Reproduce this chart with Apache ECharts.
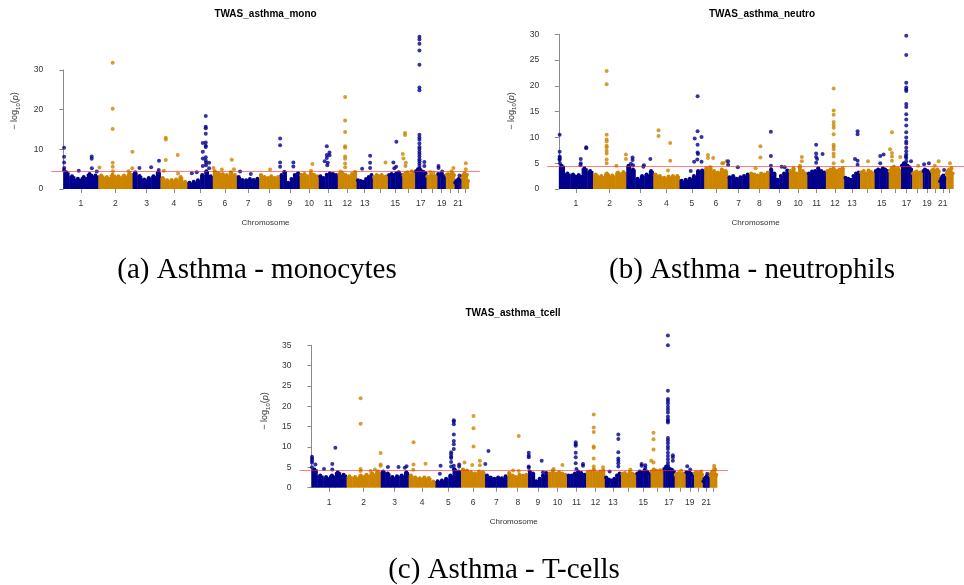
<!DOCTYPE html>
<html><head><meta charset="utf-8">
<script src="https://cdn.jsdelivr.net/npm/echarts@6/dist/echarts.min.js"></script>
<style>html,body{margin:0;padding:0;background:#fff}#c{width:964px;height:585px}</style>
</head><body><div id="c"></div>
<script>
// ---------- data ----------
const chromNames = ['1','2','3','4','5','6','7','8','9','10','11','12','13','14','15','16','17','18','19','20','21','22'];
const chromLength = [249.25,243.2,198.0,191.15,180.9,171.1,159.1,146.4,141.2,135.5,135.0,133.85,115.2,107.35,102.5,90.35,81.2,78.1,59.1,63.0,48.1,51.3];
const labeledChroms = ['1','2','3','4','5','6','7','8','9','10','11','12','13','15','17','19','21'];
const suggestiveLine = 4.35;

const titles = ['TWAS_asthma_mono','TWAS_asthma_neutro','TWAS_asthma_tcell'];
const captions = ['(a) Asthma - monocytes','(b) Asthma - neutrophils','(c) Asthma - T-cells'];
const yTicksMono = [0,10,20,30];
const yTicksNeutro = [0,5,10,15,20,25,30];
const yTicksTcell = [0,5,10,15,20,25,30,35];

// dense background band: envelope height of the bulk of genes, 6 segments per chromosome
const bandMono = [
 [4.2,3.2,2.6,3.0,3.8,3.4],[3.4,3.0,3.6,3.2,3.4,3.9],[4.0,3.3,2.4,2.8,3.2,4.2],[2.8,2.2,2.3,2.4,3.0,1.8],
 [1.6,1.8,2.2,3.5,4.5,3.2],[4.5,4.0,3.8,3.5,4.2,3.5],[3.0,2.3,2.2,2.5,2.3,2.6],[3.5,3.0,2.8,3.2,2.8,3.0],
 [3.5,4.2,1.6,2.5,3.5,4.0],[3.5,3.8,3.2,4.0,3.6,3.2],[3.2,2.8,3.6,4.0,3.8,3.5],[3.8,4.0,3.5,3.2,3.8,4.3],
 [2.2,2.0,1.8,2.5,3.0,3.5],[3.0,3.5,3.2,3.5,3.0,3.2],[3.5,3.8,3.5,4.0,4.2,3.5],[3.5,4.0,4.2,3.5,4.5,4.0],
 [4.5,5.0,5.0,4.5,4.3,4.0],[3.2,3.0,3.5,3.0,3.3,3.0],[3.8,3.5,3.8,3.6,3.2,3.0],[3.5,3.8,3.0,3.6,4.0,3.5],
 [1.6,2.0,2.2,2.5,2.3,2.0],[3.0,3.5,4.0,3.2,3.6,2.0]
];
const bandNeutro = [
 [4.5,3.0,2.8,2.7,4.0,3.5],[2.8,2.5,3.0,2.6,3.2,3.3],[4.5,3.8,2.0,2.5,2.8,3.5],[2.8,2.5,2.2,2.4,2.5,2.5],
 [1.6,1.8,2.0,2.5,3.5,3.6],[4.0,4.2,3.5,3.2,3.8,3.5],[2.3,2.5,2.0,2.3,2.5,2.8],[3.0,2.8,2.6,3.0,2.8,3.2],
 [3.8,3.0,1.8,2.5,3.0,3.6],[3.5,4.0,3.0,4.2,3.5,3.0],[3.0,3.4,3.5,4.0,3.5,3.2],[3.5,3.8,4.0,3.5,3.8,4.0],
 [2.2,2.0,1.8,2.5,3.0,3.2],[3.2,3.5,3.0,3.6,3.3,3.0],[3.5,3.8,3.6,4.0,3.8,3.5],[3.5,4.0,4.3,3.8,4.0,3.6],
 [4.5,5.0,4.8,4.5,4.2,3.8],[3.0,3.2,3.4,3.0,3.2,3.0],[3.5,3.8,3.6,3.5,3.2,3.0],[3.5,3.8,3.2,3.6,3.8,3.4],
 [1.5,2.0,2.4,2.6,2.2,2.0],[3.0,3.5,3.8,3.2,4.0,3.0]
];
const bandTcell = [
 [4.5,3.0,2.6,3.0,3.8,3.2],[2.8,2.6,3.0,3.2,3.5,4.0],[4.0,3.5,2.6,2.8,3.0,3.8],[3.0,2.5,2.3,2.5,2.4,1.5],
 [1.6,1.8,2.2,3.0,4.5,4.0],[4.5,4.2,3.8,3.5,4.0,3.8],[3.0,2.5,2.2,2.5,2.3,2.8],[3.6,3.0,2.6,3.2,3.0,3.2],
 [4.0,3.5,1.6,2.2,3.0,3.6],[3.5,4.2,3.4,3.8,3.5,3.2],[3.0,3.0,3.5,4.0,3.6,3.2],[3.8,4.0,4.5,3.6,4.0,4.2],
 [2.5,2.0,1.8,2.2,3.0,3.5],[3.4,3.6,3.2,3.8,3.4,3.2],[3.5,4.0,3.8,4.3,4.0,3.5],[4.0,4.5,4.2,4.0,4.3,3.8],
 [4.6,5.2,5.0,4.6,4.4,4.0],[3.2,3.4,3.6,3.2,3.4,3.0],[3.8,3.6,3.8,3.5,3.3,3.0],[3.5,3.8,3.4,3.6,3.8,3.2],
 [1.6,2.2,2.5,2.8,2.4,2.0],[3.2,3.6,4.0,3.4,4.5,3.2]
];

// individual genes standing out: [chromosome, position within chromosome (Mb), -log10(p)]
const pointsMono = [
 [1,6,10.4],[1,6,8.1],[1,6,6.7],[1,7,5.3],[1,5,4.8],[1,202,8.2],[1,202,7.6],[1,203,5.2],[1,110,4.6],[1,238,4.4],
 [2,102,31.8],[2,102,20.2],[2,102,15.1],[2,102,6.6],[2,102,5.6],[2,103,4.5],[2,8,5.4],[2,214,4.5],[2,242,9.4],[2,241,5.2],
 [3,49,5.3],[3,132,5.5],[3,188,7.1],[3,186,4.8],[3,20,4.2],
 [4,38,12.9],[4,38,12.5],[4,38,7.3],[4,24,4.6],[4,123,8.6],[4,125,3.9],
 [5,131,18.4],[5,131,15.7],[5,131,15.3],[5,131,13.9],[5,131,11.7],[5,131,10.9],[5,131,10.6],[5,110,11.6],[5,110,9.4],[5,110,7.7],[5,110,5.8],[5,131,8.0],[5,131,7.2],[5,133,6.6],[5,133,6.0],[5,155,6.6],[5,155,5.2],[5,32,4.0],[5,67,4.2],
 [6,135,7.4],[6,5,5.3],[6,64,4.9],[6,150,5.0],
 [7,23,4.4],[7,99,3.8],
 [8,77,4.9],
 [9,2,12.7],[9,2,11.0],[9,2,6.7],[9,2,5.6],[9,96,6.7],[9,96,5.7],[9,30,4.3],
 [10,90,6.3],[10,80,4.6],
 [11,57,10.8],[11,76,9.2],[11,57,8.6],[11,76,8.5],[11,57,7.8],[11,64,6.6],[11,42,7.0],[11,60,6.0],
 [12,52,23.2],[12,52,17.3],[12,52,14.4],[12,52,10.8],[12,52,10.4],[12,52,8.2],[12,52,7.6],[12,52,6.4],[12,52,5.5],[12,21,4.4],
 [13,96,8.4],[13,96,6.6],[13,96,5.3],[13,39,5.1],
 [14,90,6.7],
 [15,60,11.9],[15,39,6.7],[15,58,5.6],[15,45,5.2],
 [16,19,14.1],[16,19,13.6],[16,3,8.8],[16,8,7.7],[16,25,6.6],[16,22,5.8],
 [17,31,38.4],[17,31,37.7],[17,31,36.6],[17,31,34.9],[17,31,31.3],[17,31,25.6],[17,31,24.9],[17,31,13.7],[17,31,13.0],[17,31,12.4],[17,31,11.5],[17,31,10.6],[17,31,10.1],[17,31,9.4],[17,31,8.8],[17,31,8.2],[17,31,7.5],[17,31,7.0],[17,31,6.4],[17,31,5.8],[17,31,5.1],[17,66,6.8],[17,66,5.8],
 [18,26,4.3],[18,50,4.1],
 [19,7,5.8],[19,7,5.3],[19,33,4.4],
 [20,54,5.3],[20,40,4.5],
 [21,34,3.4],
 [22,31,6.5],[22,31,5.0]
];
const pointsNeutro = [
 [1,6,10.5],[1,6,7.2],[1,6,6.3],[1,7,6.0],[1,5,5.8],[1,6,5.6],[1,8,5.0],[1,160,5.8],[1,160,5.0],[1,200,8.1],[1,200,7.9],[1,158,4.6],
 [2,100,22.9],[2,100,20.3],[2,100,10.5],[2,100,9.6],[2,100,9.2],[2,100,8.4],[2,100,8.1],[2,100,7.4],[2,100,6.9],[2,100,5.7],[2,100,5.0],[2,241,6.7],[2,241,5.8],[2,171,4.5],
 [3,46,6.1],[3,46,5.6],[3,34,4.9],[3,129,4.6],[3,176,5.8],[3,125,4.3],[3,50,4.6],
 [4,38,11.4],[4,38,10.3],[4,123,8.9],[4,123,5.5],[4,107,3.6],
 [5,132,18.0],[5,132,11.2],[5,111,9.8],[5,161,10.1],[5,132,8.6],[5,132,7.1],[5,135,6.8],[5,130,5.7],[5,107,5.3],[5,161,5.3],[5,82,3.5],
 [6,27,6.6],[6,27,6.0],[6,65,6.0],[6,138,5.0],[6,162,5.4],[6,131,5.0],
 [7,3,5.4],[7,3,4.7],[7,74,4.2],
 [8,80,8.3],[8,80,6.1],[8,45,4.0],
 [9,10,11.1],[9,10,6.4],[9,10,4.5],[9,88,4.3],[9,111,4.2],
 [10,95,6.2],[10,95,5.4],[10,81,4.5],
 [11,64,8.6],[11,64,6.9],[11,64,6.2],[11,71,5.8],[11,64,5.1],[11,111,6.8],
 [12,57,19.5],[12,57,15.2],[12,57,14.4],[12,57,13.0],[12,57,12.4],[12,57,11.9],[12,57,10.6],[12,57,8.6],[12,57,8.2],[12,57,7.7],[12,57,6.9],[12,57,6.3],[12,57,5.0],[12,121,5.4],
 [13,98,11.2],[13,98,10.6],[13,79,5.8],[13,98,5.5],[13,98,4.7],
 [14,59,5.4],
 [15,41,6.4],[15,65,6.7],[15,41,5.0],
 [16,24,11.0],[16,10,7.7],[16,24,7.0],[16,24,6.3],[16,24,5.5],[16,85,6.2],
 [17,38,29.7],[17,38,26.0],[17,38,20.6],[17,38,19.7],[17,38,19.3],[17,38,19.0],[17,38,16.5],[17,38,15.9],[17,38,14.5],[17,38,13.5],[17,38,12.3],[17,38,11.0],[17,38,10.0],[17,38,9.2],[17,38,8.8],[17,38,8.0],[17,38,7.3],[17,38,6.7],[17,38,6.0],[17,38,5.4],[17,73,5.4],[17,35,6.3],
 [18,44,4.5],
 [19,9,4.8],[19,44,5.0],
 [20,56,5.4],[20,28,4.5],
 [21,33,3.7],
 [22,28,5.0]
];
const pointsTcell = [
 [1,4,7.6],[1,4,7.2],[1,4,6.7],[1,4,6.2],[1,28,5.7],[1,4,5.0],[1,170,9.8],[1,148,5.8],[1,89,4.6],[1,148,4.5],
 [2,100,22.0],[2,100,15.7],[2,100,4.6],[2,100,4.1],[2,242,8.5],[2,242,5.7],[2,242,5.4],[2,202,4.5],[2,171,4.1],
 [3,51,5.1],[3,126,5.1],[3,171,4.9],[3,183,5.3],
 [4,35,11.2],[4,35,5.7],[4,120,5.9],[4,33,4.4],
 [5,36,5.4],[5,31,3.4],[5,111,8.7],[5,111,8.2],[5,111,7.6],[5,111,7.3],[5,111,6.3],[5,111,5.2],[5,130,16.6],[5,130,16.2],[5,130,15.6],[5,130,13.1],[5,130,11.5],[5,130,10.7],[5,130,9.5],[5,130,5.4],[5,130,4.6],[5,168,5.7],[5,168,5.2],
 [6,89,17.6],[6,89,14.6],[6,89,10.1],[6,80,5.6],[6,25,6.2],[6,134,6.6],[6,134,5.5],
 [7,24,9.0],[7,2,5.8],
 [8,80,12.7],[8,80,4.1],[8,40,4.2],
 [9,5,8.6],[9,5,7.9],[9,5,7.5],[9,5,5.2],[9,5,4.9],[9,97,6.6],[9,106,3.8],
 [10,103,5.6],[10,41,4.6],
 [11,62,11.2],[11,62,10.7],[11,62,10.3],[11,62,8.6],[11,62,7.5],[11,62,6.0],[11,114,5.8],[11,114,5.4],[11,67,4.6],
 [12,55,18.0],[12,55,14.8],[12,55,13.7],[12,55,10.1],[12,55,9.8],[12,55,7.2],[12,121,5.0],[12,55,5.2],
 [13,96,13.1],[13,96,12.0],[13,96,8.7],[13,96,7.2],[13,96,6.6],[13,96,6.0],[13,96,5.2],[13,34,4.0],
 [14,66,4.5],
 [15,39,5.8],[15,39,5.4],[15,65,5.5],[15,65,4.9],
 [16,21,13.5],[16,21,11.9],[16,21,9.4],[16,5,6.6],[16,21,6.2],
 [17,33,37.4],[17,33,35.0],[17,33,23.8],[17,33,21.8],[17,33,21.3],[17,33,20.7],[17,33,19.9],[17,33,19.2],[17,33,18.5],[17,33,17.5],[17,33,16.8],[17,33,16.4],[17,33,16.0],[17,33,12.2],[17,33,11.6],[17,33,10.9],[17,33,10.1],[17,33,9.5],[17,33,8.6],[17,33,7.8],[17,33,7.0],[17,33,6.2],[17,33,5.5],[17,68,8.0],[17,68,7.5],[17,68,6.6],
 [18,46,4.2],
 [19,11,5.3],[19,32,4.5],
 [20,51,4.0],
 [21,31,3.4],
 [22,32,5.4],[22,32,4.8]
];

// ---------- build ----------
const COLORS = ['#00008B', '#CD8500'];
const chromStart = [];
(function(){ let acc = 0; chromLength.forEach(l => { chromStart.push(acc); acc += l; }); })();
const chromCenter = chromLength.map((l, i) => chromStart[i] + l / 2);
const labeledCenters = labeledChroms.map(n => chromCenter[chromNames.indexOf(n)]);

function bandItems(band) {
  const out = [];
  band.forEach((vals, ci) => {
    const seg = chromLength[ci] / vals.length;
    vals.forEach((h, k) => out.push([chromStart[ci] + k * seg, chromStart[ci] + (k + 1) * seg, h, ci]));
  });
  return out;
}
function pointItems(pts) {
  return pts.map(p => [chromStart[p[0] - 1] + p[1], p[2], p[0] - 1]);
}

const FONT = "'Liberation Sans', Arial, Helvetica, sans-serif";
const AX = '#8a8a8a';
const grids = [
  {left: 51.3, top: 70, width: 428.5, height: 119},
  {left: 547.2, top: 34.3, width: 428.5, height: 154.7},
  {left: 299.5, top: 345.3, width: 428.5, height: 142.4}
];
const yTicks = [yTicksMono, yTicksNeutro, yTicksTcell];
const bands = [bandMono, bandNeutro, bandTcell];
const points = [pointsMono, pointsNeutro, pointsTcell];

const xAxes = grids.map((g, i) => ({
  type: 'value', gridIndex: i, min: -85, max: 2960, offset: 1,
  axisLine: {show: false}, splitLine: {show: false},
  axisTick: {show: true, customValues: chromCenter, length: 4, lineStyle: {color: AX, width: 1}},
  axisLabel: {show: true, customValues: labeledCenters, margin: 9, fontSize: 8.5, color: '#333', fontFamily: FONT,
    formatter: v => { let best = 0; chromCenter.forEach((c, k) => { if (Math.abs(c - v) < Math.abs(chromCenter[best] - v)) best = k; }); return chromNames[best]; }},
  name: 'Chromosome', nameLocation: 'middle', nameGap: 29,
  nameTextStyle: {fontSize: 8, color: '#333', fontFamily: FONT}
}));
const yAxes = grids.map((g, i) => {
  const t = yTicks[i];
  return {
    type: 'value', gridIndex: i, min: t[0], max: t[t.length - 1], interval: t[1] - t[0],
    axisLine: {show: true, lineStyle: {color: AX, width: 1}},
    axisTick: {show: true, length: 4, lineStyle: {color: AX}},
    axisLabel: {fontSize: 8.5, color: '#333', margin: 8, fontFamily: FONT},
    splitLine: {show: false}
  };
});

const series = [];
grids.forEach((g, i) => {
  series.push({
    type: 'custom', xAxisIndex: i, yAxisIndex: i, z: 1, silent: true, animation: false,
    encode: {x: [0, 1], y: 2},
    data: bandItems(bands[i]),
    renderItem: (params, api) => {
      const p0 = api.coord([api.value(0), 0]);
      const p1 = api.coord([api.value(1), api.value(2)]);
      const color = COLORS[api.value(3) % 2];
      return {type: 'group', children: [
        {type: 'rect', shape: {x: p0[0], y: p1[1], width: p1[0] - p0[0] + 0.5, height: p0[1] - p1[1]}, style: {fill: color}},
        {type: 'circle', shape: {cx: (p0[0] + p1[0]) / 2, cy: p1[1], r: 2}, style: {fill: color}}
      ]};
    }
  });
  series.push({
    type: 'scatter', xAxisIndex: i, yAxisIndex: i, z: 3, clip: false, animation: false, silent: true,
    symbol: 'circle', symbolSize: 4,
    data: pointItems(points[i]),
    itemStyle: {color: p => COLORS[p.data[2] % 2]},
    markLine: {
      silent: true, symbol: ['none', 'none'], animation: false,
      label: {show: false},
      lineStyle: {color: 'rgba(255,40,40,0.6)', width: 1.2, type: 'solid'},
      data: [{yAxis: suggestiveLine}]
    }
  });
});

const ylabRich = {
  n: {fontSize: 9, fontFamily: FONT, color: '#333'},
  s: {fontSize: 6, fontFamily: FONT, color: '#333', padding: [6, 0, 0, 0]},
  i: {fontSize: 9, fontFamily: FONT, color: '#333', fontStyle: 'italic'}
};
const ylabPos = [[15, 111], [511.5, 111], [265, 411]];
const titlePos = [[265.5, 14.5], [762, 14.5], [513, 313.5]];
const capPos = [[257, 270], [752, 270], [504, 570]];

const graphic = [];
for (let i = 0; i < 3; i++) {
  graphic.push({type: 'text', x: titlePos[i][0], y: titlePos[i][1], style: {text: titles[i], font: 'bold 10px ' + FONT, fill: '#000', textAlign: 'center', textVerticalAlign: 'middle'}});
  graphic.push({type: 'text', x: capPos[i][0], y: capPos[i][1], style: {text: captions[i], font: "29px 'Liberation Serif', 'Times New Roman', serif", fill: '#000', textAlign: 'center', textVerticalAlign: 'middle'}});
  graphic.push({type: 'text', x: ylabPos[i][0], y: ylabPos[i][1], rotation: Math.PI / 2,
    style: {text: '{n|− log}{s|10}{n|(}{i|p}{n|)}', rich: ylabRich, textAlign: 'center', textVerticalAlign: 'middle', fill: '#333'}});
}

const chart = echarts.init(document.getElementById('c'), null, {renderer: 'canvas'});
chart.setOption({
  animation: false,
  backgroundColor: '#fff',
  grid: grids,
  xAxis: xAxes,
  yAxis: yAxes,
  series: series,
  graphic: graphic
});
</script>
</body></html>
